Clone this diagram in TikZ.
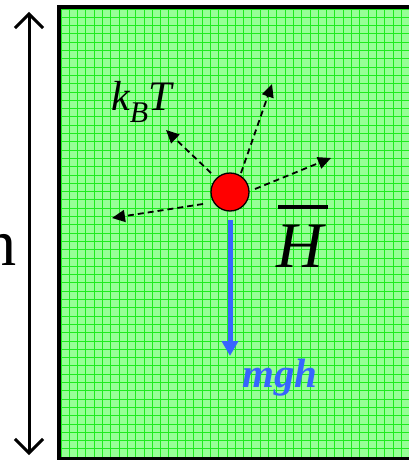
\documentclass[tikz,border=0pt]{standalone}
\usepackage{fontspec}
\setmainfont{Liberation Serif}
\usetikzlibrary{arrows.meta}
\definecolor{bglight}{RGB}{150,255,150}
\definecolor{gridgreen}{RGB}{30,235,30}
\definecolor{myblue}{RGB}{55,100,255}
\tikzset{
  kick/.style={dashed, dash pattern=on 6pt off 4pt, line width=1.8pt, -{Triangle[length=13pt,width=12pt]}},
  gravity/.style={myblue, line width=5pt, -{Triangle[length=15pt,width=16pt]}},
  particle/.style={circle, draw=black, line width=1.3pt, fill=red, minimum size=38pt, inner sep=0pt},
}
\begin{document}
\begin{tikzpicture}[x=1pt,y=-1pt]
\useasboundingbox (0,0) rectangle (409,460);
\begin{scope}
\clip (0,0) rectangle (409,460);
% box background
\fill[bglight] (59,7) rectangle (420,459);
\foreach \i in {0,...,43} {
  \draw[gridgreen, line width=0.9pt] ({61+8.3*\i},7) -- ({61+8.3*\i},459);
}
\foreach \j in {0,...,55} {
  \draw[gridgreen, line width=0.9pt] (59,{9+8.3*\j}) -- (420,{9+8.3*\j});
}
\draw[black, line width=4pt] (420,7) -- (59,7) -- (59,459) -- (420,459);
% height arrow
\coordinate (top) at (29,12);
\coordinate (bot) at (29,455);
\draw[line width=3pt, {Straight Barb[length=14pt,width=28pt]}-{Straight Barb[length=14pt,width=28pt]}] (top) -- (bot);
\node[anchor=base east, font=\fontsize{66}{70}\selectfont, inner sep=0pt] (hlab) at (17,265) {h};
% particle
\node[particle] (p) at (230,192) {};
\coordinate (s1) at (211,173);
\coordinate (s2) at (241,173);
\coordinate (s3) at (255,189);
\coordinate (s4) at (203,204);
\coordinate (a1) at (166,130);
\coordinate (a2) at (272,84);
\coordinate (a3) at (331,158);
\coordinate (a4) at (112,218);
\draw[kick] (s1) -- (a1);
\draw[kick] (s2) -- (a2);
\draw[kick] (s3) -- (a3);
\draw[kick] (s4) -- (a4);
% gravity
\coordinate (g0) at (230,220);
\coordinate (g1) at (230,356);
\draw[gravity] (g0) -- (g1);
\node[anchor=base west, text=myblue, font=\fontsize{41}{44}\selectfont\bfseries\itshape, inner sep=0pt] (mgh) at (242,387) {mgh};
% labels
\node[anchor=base west, font=\fontsize{42}{46}\selectfont\itshape, inner sep=0pt] (kbt) at (111,110) {k\raisebox{-12pt}{\fontsize{30}{32}\selectfont B}T};
\node[anchor=base west, font=\fontsize{65}{70}\selectfont\itshape, inner sep=0pt] (H) at (276,267) {H};
\draw[line width=3.5pt] (278,207) -- (328,207);
\end{scope}
\end{tikzpicture}
\end{document}
